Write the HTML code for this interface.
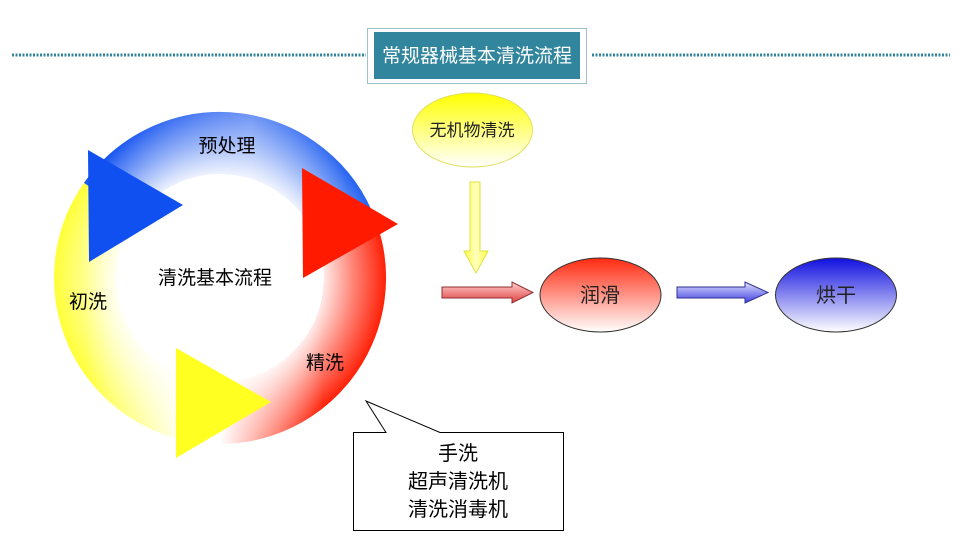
<!DOCTYPE html>
<html><head><meta charset="utf-8"><style>
html,body{margin:0;padding:0;background:#fff;}
svg{display:block;}
text{font-family:"Liberation Sans","Noto Sans CJK SC",sans-serif;}
</style></head><body>
<svg width="960" height="540" viewBox="0 0 960 540" xmlns="http://www.w3.org/2000/svg">
<defs>
<linearGradient id="gb" x1="0" y1="0" x2="1" y2="0"><stop offset="0" stop-color="#1050f0"/><stop offset="0.6" stop-color="#6d94f5"/><stop offset="1" stop-color="#1f5ff0"/></linearGradient>
<linearGradient id="gr" x1="0" y1="0" x2="1" y2="0"><stop offset="0.15" stop-color="#ffffff"/><stop offset="0.8" stop-color="#ff1a00"/></linearGradient>
<linearGradient id="gy" x1="0" y1="0" x2="1" y2="0"><stop offset="0" stop-color="#ffff33"/><stop offset="0.85" stop-color="#ffffff"/></linearGradient>
<radialGradient id="wh" gradientUnits="userSpaceOnUse" cx="220" cy="278" r="168">
<stop offset="0.58" stop-color="#fff" stop-opacity="1"/><stop offset="0.8" stop-color="#fff" stop-opacity="0.45"/><stop offset="1" stop-color="#fff" stop-opacity="0"/></radialGradient>
<linearGradient id="ey" x1="0" y1="0" x2="0" y2="1"><stop offset="0" stop-color="#ffff00"/><stop offset="1" stop-color="#ffffff"/></linearGradient>
<linearGradient id="er" x1="0" y1="0" x2="0" y2="1"><stop offset="0" stop-color="#ff2a10"/><stop offset="1" stop-color="#ffffff"/></linearGradient>
<linearGradient id="eb" x1="0" y1="0" x2="0" y2="1"><stop offset="0" stop-color="#1010e0"/><stop offset="1" stop-color="#ffffff"/></linearGradient>
<linearGradient id="ay" x1="0" y1="0" x2="1" y2="0"><stop offset="0" stop-color="#ffff40"/><stop offset="0.5" stop-color="#ffffc0"/><stop offset="1" stop-color="#ffff40"/></linearGradient>
<linearGradient id="ar" x1="0" y1="0" x2="0" y2="1"><stop offset="0" stop-color="#ffd0d0"/><stop offset="1" stop-color="#e04040"/></linearGradient>
<linearGradient id="ab" x1="0" y1="0" x2="0" y2="1"><stop offset="0" stop-color="#e0e0ff"/><stop offset="1" stop-color="#4040e0"/></linearGradient>
</defs>

<line x1="12" y1="55" x2="366" y2="55" stroke="#31849b" stroke-width="3" stroke-dasharray="2,1.5"/>
<line x1="592" y1="55" x2="950" y2="55" stroke="#31849b" stroke-width="3" stroke-dasharray="2,1.5"/>
<rect x="367.5" y="28.5" width="219" height="55" fill="#fff" stroke="#9dbfcb"/>
<rect x="374" y="32" width="206" height="47" fill="#31859c"/>
<text x="477" y="62" font-size="19" fill="#fff" text-anchor="middle">常规器械基本清洗流程</text>

<!-- ring arcs -->
<path d="M208,412.5 A135,135 0 0 1 109.4,200.6" fill="none" stroke="url(#gy)" stroke-width="62"/>
<path d="M109.4,200.6 A135,135 0 0 1 346.9,231.8" fill="none" stroke="url(#gb)" stroke-width="62"/>
<path d="M346.9,231.8 A135,135 0 0 1 196.6,410.9" fill="none" stroke="url(#gr)" stroke-width="62"/>
<circle cx="220" cy="278" r="135" fill="none" stroke="url(#wh)" stroke-width="62"/>
<circle cx="220" cy="278" r="104" fill="#fff"/>
<polygon points="88,150 89,262 183,205" fill="#1050f0"/>
<polygon points="302,168 303,278 398,224" fill="#ff1a00"/>
<polygon points="176,348 176,458 271,402" fill="#ffff22"/>

<text x="227" y="152" font-size="19" text-anchor="middle" fill="#000">预处理</text>
<text x="215" y="284" font-size="19" text-anchor="middle" fill="#000">清洗基本流程</text>
<text x="88" y="308" font-size="19" text-anchor="middle" fill="#000">初洗</text>
<text x="325" y="369" font-size="19" text-anchor="middle" fill="#000">精洗</text>

<path d="M353.5,432.5 H386 L366,401 L440,432.5 H563.5 V530.5 H353.5 Z" fill="#fff" stroke="#000" stroke-width="1"/>
<text x="458" y="460" font-size="20" text-anchor="middle" fill="#000">手洗</text>
<text x="458" y="488" font-size="20" text-anchor="middle" fill="#000">超声清洗机</text>
<text x="458" y="516" font-size="20" text-anchor="middle" fill="#000">清洗消毒机</text>

<ellipse cx="472.5" cy="130" rx="60" ry="37" fill="url(#ey)" stroke="#e0e060" stroke-width="1"/>
<text x="472" y="136" font-size="17" text-anchor="middle" fill="#222">无机物清洗</text>
<polygon points="470,182 480,182 480,251 488,251 476,273 464,251 470,251" fill="url(#ay)" stroke="#e0e040" stroke-width="1"/>
<polygon points="442,287 512,287 512,282 533,292.5 512,303 512,298 442,298" fill="url(#ar)" stroke="#903030" stroke-width="1"/>
<ellipse cx="600.5" cy="295" rx="60.5" ry="37" fill="url(#er)" stroke="#333" stroke-width="1"/>
<text x="600" y="302" font-size="20" text-anchor="middle" fill="#222">润滑</text>
<polygon points="677,287 745,287 745,282 768,292.5 745,303 745,298 677,298" fill="url(#ab)" stroke="#303090" stroke-width="1"/>
<ellipse cx="836" cy="295" rx="60.5" ry="37" fill="url(#eb)" stroke="#333" stroke-width="1"/>
<text x="836" y="302" font-size="20" text-anchor="middle" fill="#222">烘干</text>
</svg>
</body></html>
